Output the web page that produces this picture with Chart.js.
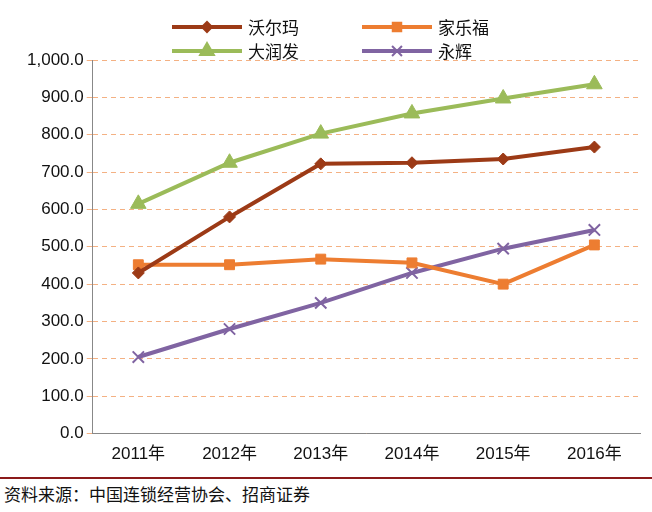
<!DOCTYPE html>
<html>
<head>
<meta charset="utf-8">
<script src="https://cdn.jsdelivr.net/npm/chart.js@4.4.1/dist/chart.umd.min.js"></script>
<style>
  body { margin: 0; background: #fff; font-family: "Noto Sans CJK SC", sans-serif; }
  #wrap { position: relative; width: 652px; height: 512px; }
  #chartBox { position: absolute; left: 0; top: 0; width: 652px; height: 468px; }
  .leg { position: absolute; font-size: 17px; color: #111; display: flex; align-items: center; }
  .leg canvas { margin-right: 6px; }
  #rule { position: absolute; left: 0; top: 477px; width: 652px; height: 2px; background: #8b1a1a; }
  #source { position: absolute; left: 4px; top: 481px; font-size: 17px; color: #111; }
</style>
</head>
<body>
<div id="wrap">
  <div id="chartBox"><canvas id="chart"></canvas></div>
  <div id="legend"></div>
  <div id="rule"></div>
  <div id="source">资料来源：中国连锁经营协会、招商证券</div>
</div>
<script>
// data
const years = ['2011年', '2012年', '2013年', '2014年', '2015年', '2016年'];
const walmart = [430, 580, 722, 725, 735, 767];
const carrefour = [452, 452, 467, 457, 400, 505];
const rtmart = [615, 725, 803, 857, 897, 935];
const yonghui = [205, 280, 350, 430, 495, 545];

const series = [
  { label: '沃尔玛', data: walmart, color: '#9c3a16', style: 'rectRot', r: 6, pos: [172, 26] },
  { label: '家乐福', data: carrefour, color: '#ed7d31', style: 'rect', r: 7, pos: [362, 26] },
  { label: '大润发', data: rtmart, color: '#9bbb59', style: 'triangle', r: 9, pos: [172, 50] },
  { label: '永辉', data: yonghui, color: '#8064a2', style: 'crossRot', r: 8, pos: [362, 50] },
];

// html legend
const legend = document.getElementById('legend');
series.forEach(s => {
  const div = document.createElement('div');
  div.className = 'leg';
  div.style.left = s.pos[0] + 'px';
  div.style.top = (s.pos[1] - 12) + 'px';
  const c = document.createElement('canvas');
  c.width = 70; c.height = 20;
  const ctx = c.getContext('2d');
  ctx.strokeStyle = s.color; ctx.lineWidth = 4;
  ctx.beginPath(); ctx.moveTo(0, 10); ctx.lineTo(70, 10); ctx.stroke();
  ctx.fillStyle = s.color; ctx.lineWidth = 2;
  Chart.helpers.drawPoint(ctx, { pointStyle: s.style, radius: s.r - 1, rotation: 0, borderWidth: 2 }, 35, 10);
  div.appendChild(c);
  div.appendChild(document.createTextNode(s.label));
  legend.appendChild(div);
});

new Chart(document.getElementById('chart'), {
  type: 'line',
  data: {
    labels: years,
    datasets: series.map(s => ({
      label: s.label,
      data: s.data,
      borderColor: s.color,
      backgroundColor: s.color,
      borderWidth: 4,
      pointStyle: s.style,
      pointRadius: s.r,
      pointBorderWidth: s.style === 'crossRot' ? 2 : 1,
      tension: 0,
    })),
  },
  options: {
    responsive: true,
    maintainAspectRatio: false,
    animation: false,
    layout: { padding: { top: 60, right: 12, left: 24 } },
    plugins: { legend: { display: false }, tooltip: { enabled: false } },
    scales: {
      x: {
        offset: true,
        grid: { display: false, drawTicks: true },
        border: { color: '#888', width: 1 },
        ticks: { color: '#111', font: { size: 17, family: 'Liberation Sans, "Noto Sans CJK SC"' } },
      },
      y: {
        min: 0, max: 1000,
        ticks: {
          stepSize: 100, color: '#111',
          font: { size: 17, family: 'Liberation Sans' },
          callback: v => v.toLocaleString('en-US', { minimumFractionDigits: 1, maximumFractionDigits: 1 }),
        },
        grid: { color: '#f4b183', tickLength: 6 },
        border: { dash: [5, 4], color: '#888', display: true },
      },
    },
  },
});
</script>
</body>
</html>
